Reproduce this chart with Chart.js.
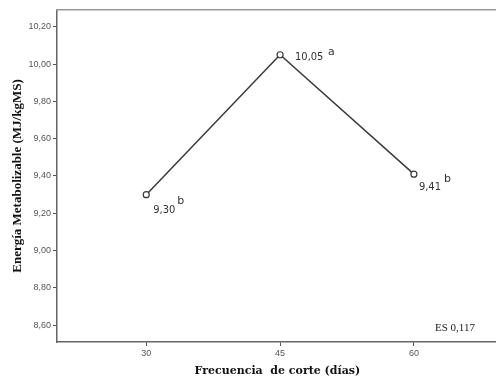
<!DOCTYPE html>
<html>
<head>
<meta charset="utf-8">
<script src="https://cdn.jsdelivr.net/npm/chart.js@4.4.1/dist/chart.umd.min.js"></script>
<style>
  html, body { margin: 0; padding: 0; background: #fff; overflow: hidden; }
  canvas { display: block; }
</style>
</head>
<body>
<canvas id="chart" width="503" height="378"></canvas>
<script>
// data
const frecuencias = [30, 45, 60];
const energia = [9.30, 10.05, 9.41];
const valorTexto = ["9,30", "10,05", "9,41"];
const letras = ["b", "a", "b"];
const yTicks = [8.6, 8.8, 9.0, 9.2, 9.4, 9.6, 9.8, 10.0, 10.2];
const errorEstandar = "ES 0,117";

// where each value label sits relative to its point
const labelOffsets = [
  { vx: 7, vy: 15, lx: 31, ly: 6 },
  { vx: 15, vy: 2, lx: 48, ly: -3 },
  { vx: 5, vy: 13, lx: 30, ly: 5 }
];

const coma = v => v.toFixed(2).replace(".", ",");

const labelPlugin = {
  id: "etiquetas",
  afterDatasetsDraw(chart) {
    const ctx = chart.ctx;
    const xs = chart.scales.x, ys = chart.scales.y;
    ctx.save();
    ctx.textBaseline = "middle";
    frecuencias.forEach((f, i) => {
      const px = xs.getPixelForValue(f);
      const py = ys.getPixelForValue(energia[i]);
      const o = labelOffsets[i];
      ctx.fillStyle = "#333";
      ctx.textAlign = "left";
      ctx.font = "11px 'Liberation Sans Narrow', 'DejaVu Sans Condensed', sans-serif";
      ctx.fillText(valorTexto[i], px + o.vx, py + o.vy);
      ctx.font = "11px 'DejaVu Sans', sans-serif";
      ctx.fillText(letras[i], px + o.lx, py + o.ly);
    });
    const a = chart.chartArea;
    ctx.font = "11px 'Liberation Serif', serif";
    ctx.fillStyle = "#222";
    ctx.fillText(errorEstandar, 435, a.bottom - 14);
    ctx.restore();
  }
};

new Chart(document.getElementById("chart"), {
  type: "line",
  data: {
    datasets: [{
      data: frecuencias.map((f, i) => ({ x: f, y: energia[i] })),
      borderColor: "#3a3a3a",
      borderWidth: 1.5,
      pointRadius: 3,
      pointBorderWidth: 1.2,
      pointBackgroundColor: "#fff",
      pointBorderColor: "#3a3a3a",
      tension: 0
    }]
  },
  plugins: [labelPlugin],
  options: {
    responsive: false,
    animation: false,
    layout: { padding: { top: 10, right: 1, left: 0, bottom: 0 } },
    plugins: { legend: { display: false }, tooltip: { enabled: false } },
    scales: {
      x: {
        type: "linear",
        min: 20,
        max: 69.4,
        afterBuildTicks: s => { s.ticks = frecuencias.map(v => ({ value: v })); },
        afterFit: s => { s.height = 36; },
        ticks: {
          color: "#555",
          font: { size: 9, family: "'Liberation Sans', Arial, sans-serif" },
          padding: 2
        },
        grid: { drawOnChartArea: false, tickLength: 4, color: "#555", tickColor: "#555" },
        border: { color: "#666", width: 1.5 },
        title: {
          display: true,
          text: "Frecuencia  de corte (días)",
          color: "#111",
          font: { size: 11, weight: "bold", family: "'DejaVu Serif', serif" },
          padding: { top: 6, bottom: 0 }
        }
      },
      y: {
        min: 8.51,
        max: 10.29,
        afterBuildTicks: s => { s.ticks = yTicks.map(v => ({ value: v })); },
        afterFit: s => { s.width = 57; },
        ticks: {
          color: "#555",
          font: { size: 9, family: "'Liberation Sans', Arial, sans-serif" },
          padding: 2,
          callback: v => coma(v)
        },
        grid: { drawOnChartArea: false, tickLength: 4, color: "#555", tickColor: "#555" },
        border: { color: "#666", width: 1.5 },
        title: {
          display: true,
          text: "Energía Metabolizable (MJ/kgMS)",
          color: "#111",
          font: { size: 13, weight: "bold", family: "'Liberation Serif', serif" },
          padding: { top: 10, bottom: 0 }
        }
      },
      xTop: {
        type: "linear",
        position: "top",
        display: true,
        min: 20, max: 69.4,
        ticks: { display: false },
        grid: { display: false },
        border: { color: "#999", width: 1.5 },
        afterFit: s => { s.height = 0; }
      }
    }
  }
});
</script>
</body>
</html>
